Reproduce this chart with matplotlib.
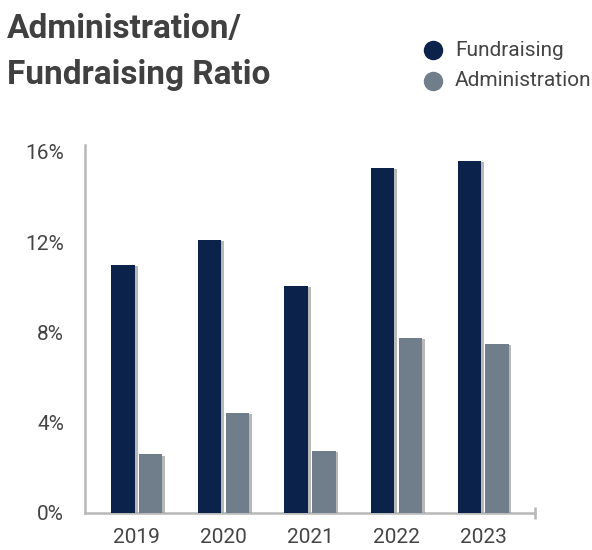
import matplotlib
matplotlib.use("Agg")
import matplotlib.pyplot as plt
import matplotlib.patheffects as pe
import numpy as np

years = ["2019", "2020", "2021", "2022", "2023"]
fundraising = [11.0, 12.1, 10.05, 15.3, 15.6]
administration = [2.6, 4.45, 2.75, 7.75, 7.5]
yticks = [0, 4, 8, 12, 16]
ytick_labels = ["0%", "4%", "8%", "12%", "16%"]

navy = "#0b234a"
slate = "#707e8c"
txt = "#444444"
axis_col = "#b8b8b8"

plt.rcParams["font.family"] = ["Roboto", "DejaVu Sans"]

fig = plt.figure(figsize=(5.92, 5.5), dpi=100)
ax = fig.add_axes([85 / 592, 37 / 550, 450 / 592, 368 / 550])

x = np.arange(len(years))
w = 0.27
shadow = [pe.SimplePatchShadow(offset=(2, -1), shadow_rgbFace="#9a9a9a", alpha=0.7), pe.Normal()]
b1 = ax.bar(x - 0.16, fundraising, width=w, color=navy, zorder=3)
b2 = ax.bar(x + 0.16, administration, width=w, color=slate, zorder=3)
for b in list(b1) + list(b2):
    b.set_path_effects(shadow)

ax.set_xlim(-0.6, 4.6)
ax.set_ylim(0, 16.3)
ax.set_xticks(x)
ax.set_xticklabels(years)
ax.set_yticks(yticks)
ax.set_yticklabels(ytick_labels)
ax.tick_params(axis="both", length=0, labelsize=15, labelcolor=txt)
ax.tick_params(axis="x", pad=11)
ax.tick_params(axis="y", pad=15)

for s in ["top", "right"]:
    ax.spines[s].set_visible(False)
for s in ["left", "bottom"]:
    ax.spines[s].set_color(axis_col)
    ax.spines[s].set_linewidth(1.8)

ax.plot([1], [0], transform=ax.transAxes, marker="|", markersize=9,
        markeredgewidth=1.8, color=axis_col, clip_on=False)

fig.text(7 / 592, 1 - 38 / 550, "Administration/", fontsize=24, fontweight="bold",
         color="#404040", va="baseline", ha="left")
fig.text(7 / 592, 1 - 84 / 550, "Fundraising Ratio", fontsize=24, fontweight="bold",
         color="#404040", va="baseline", ha="left")

for yy, lab, c in [(50, "Fundraising", navy), (81, "Administration", slate)]:
    fig.lines.append(matplotlib.lines.Line2D([433 / 592], [1 - yy / 550], marker="o",
                                             markersize=13, color=c, transform=fig.transFigure))
    fig.text(455 / 592, 1 - yy / 550, lab, fontsize=15, color=txt, va="center", ha="left")

fig.savefig("out.png", dpi=100, facecolor="white")
